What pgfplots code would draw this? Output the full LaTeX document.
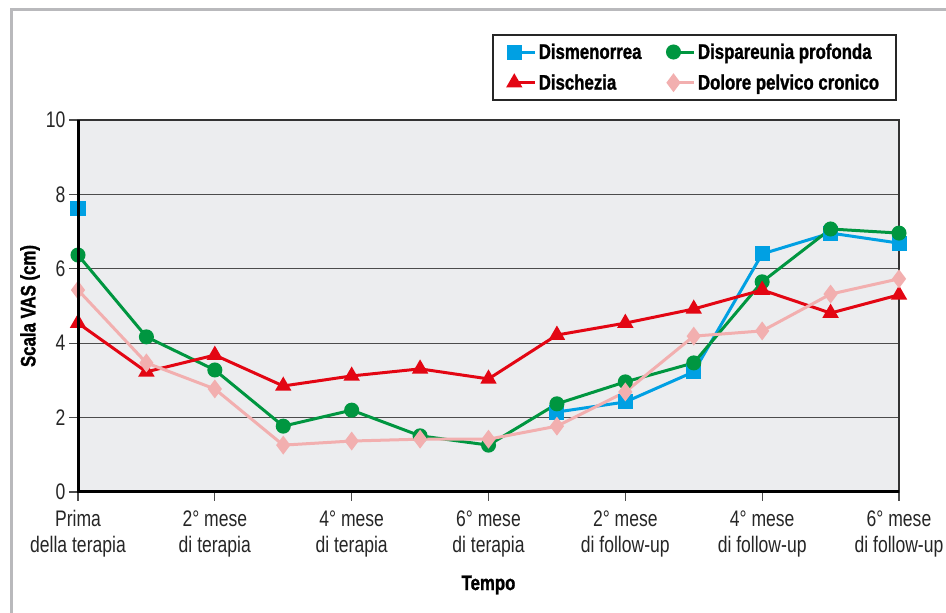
\documentclass[border=0pt]{standalone}
\usepackage{fontspec}
\setmainfont{Liberation Sans}
\newfontfamily\condfont[FakeStretch=0.78]{Liberation Sans}
\newfontfamily\condbold[FakeStretch=0.8,FakeBold=1.2]{Liberation Sans Bold}
\usepackage{pgfplots}
\pgfplotsset{compat=1.18}
\definecolor{cblue}{RGB}{0,160,227}
\definecolor{cgreen}{RGB}{0,150,64}
\definecolor{cred}{RGB}{227,6,19}
\definecolor{cpink}{RGB}{242,175,175}
\definecolor{bgcol}{RGB}{236,237,239}
\definecolor{framecol}{RGB}{185,185,188}
\begin{document}
\begin{tikzpicture}[x=1pt,y=1pt]
\useasboundingbox (0,0) rectangle (946,613);
\draw[line width=3pt, color=framecol] (11,0) -- (11,603) -- (946,603);
\begin{axis}[
  at={(78pt,121pt)}, anchor=south west,
  scale only axis, width=821pt, height=372pt,
  xmin=0, xmax=12, ymin=0, ymax=10,
  xtick={0,2,...,12}, ytick={0,2,...,10},
  xtick pos=bottom, ytick pos=left,
  xticklabels={{Prima\\della terapia},{2° mese\\di terapia},{4° mese\\di terapia},{6° mese\\di terapia},{2° mese\\di follow-up},{4° mese\\di follow-up},{6° mese\\di follow-up}},
  xticklabel style={align=center, font=\condfont\fontsize{22.5}{26}\selectfont, text=black!85, yshift=-6pt},
  yticklabel style={font=\condfont\fontsize{22.5}{26}\selectfont, text=black!85},
  /pgf/number format/assume math mode=true,
  axis background/.style={fill=bgcol},
  ymajorgrids, grid style={line width=1.2pt, color=black!70},
  tick align=outside, major tick length=9pt,
  tick style={line width=1.2pt, color=black!70},
  axis line style={line width=1.2pt, color=black!80},
  clip=false,
  unbounded coords=jump,
  xlabel={Tempo},
  xlabel style={font=\condbold\fontsize{21}{24}\selectfont, at={(axis description cs:0.5,0)}, anchor=center, yshift=-93pt},
  ylabel={Scala VAS (cm)},
  ylabel style={font=\condbold\fontsize{21}{24}\selectfont, at={(axis description cs:0,0.5)}, anchor=center, yshift=48pt},
  every axis plot/.append style={line width=3pt},
  legend columns=2,
  legend cell align=left,
  legend style={at={(axis description cs:1,1)}, anchor=south east, xshift=-2pt, yshift=19pt,
    draw=black!85, line width=1.8pt, fill=white,
    font=\condbold\fontsize{21}{24}\selectfont,
    inner xsep=15pt, inner ysep=7pt, row sep=10pt,
    /tikz/every even column/.append style={column sep=24pt}},
  legend image code/.code={\draw[#1, mark repeat=2, mark phase=1] plot coordinates {(0pt,0pt) (21pt,0pt)};},
  after end axis/.code={\draw[line width=3pt, black] (rel axis cs:0,1) -- (rel axis cs:0,0) -- (rel axis cs:1,0);},
]
\addplot[color=cblue, mark=square*, mark size=6pt, mark options={solid}] coordinates {
(0,7.61) (1,nan) (2,nan) (3,nan) (4,nan) (5,nan) (6,nan) (7,2.15) (8,2.42) (9,3.23) (10,6.40) (11,6.96) (12,6.69)};
\addlegendentry{Dismenorrea}
\addplot[color=cgreen, mark=*, mark size=6pt] coordinates {
(0,6.37) (1,4.17) (2,3.28) (3,1.77) (4,2.20) (5,1.51) (6,1.26) (7,2.37) (8,2.96) (9,3.47) (10,5.65) (11,7.07) (12,6.96)};
\addlegendentry{Dispareunia profonda}
\addplot[color=cred, mark=triangle*, mark size=6.5pt] coordinates {
(0,4.54) (1,3.23) (2,3.68) (3,2.85) (4,3.12) (5,3.31) (6,3.04) (7,4.22) (8,4.54) (9,4.92) (10,5.43) (11,4.81) (12,5.30)};
\addlegendentry{Dischezia}
\addplot[color=cpink, mark=diamond*, mark size=7pt] coordinates {
(0,5.43) (1,3.47) (2,2.77) (3,1.26) (4,1.37) (5,1.42) (6,1.42) (7,1.77) (8,2.69) (9,4.19) (10,4.33) (11,5.32) (12,5.73)};
\addlegendentry{Dolore pelvico cronico}
\end{axis}
\end{tikzpicture}
\end{document}
